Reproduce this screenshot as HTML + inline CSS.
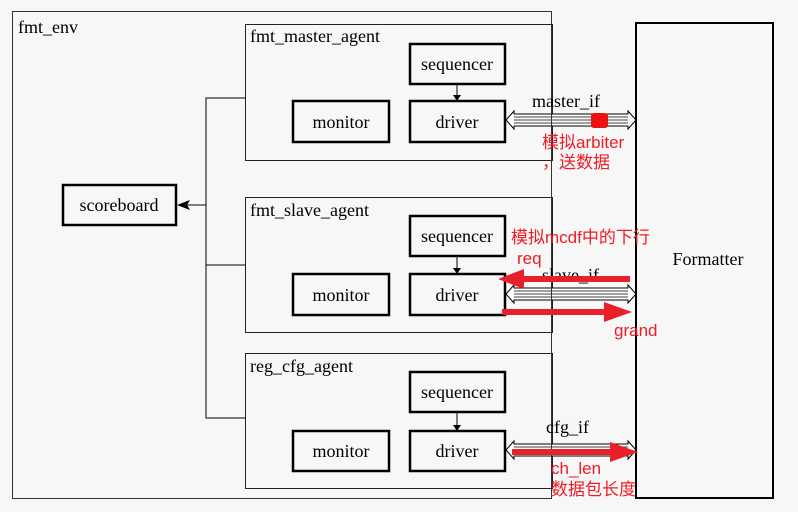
<!DOCTYPE html>
<html><head><style>html,body{margin:0;padding:0;background:#f7f7f7;}svg{display:block}</style></head>
<body>
<svg width="798" height="512" xmlns="http://www.w3.org/2000/svg" font-family="Liberation Serif, serif" font-size="18">
<rect width="798" height="512" fill="#f7f7f7"/>
<defs>
<g id="bus">
<polygon points="506,0 514,-9 514,-6 628,-6 628,-9 636,0 628,9 628,6 514,6 514,9" fill="#fff" stroke="#000" stroke-width="1"/>
<line x1="514" y1="-3" x2="628" y2="-3" stroke="#000" stroke-width="0.8"/>
<line x1="514" y1="0" x2="628" y2="0" stroke="#000" stroke-width="0.8"/>
<line x1="514" y1="3" x2="628" y2="3" stroke="#000" stroke-width="0.8"/>
</g>
</defs>
<rect x="12.5" y="11.5" width="539" height="487" fill="none" stroke="#333" stroke-width="1"/>
<text x="18" y="33">fmt_env</text>
<rect x="245.5" y="24.5" width="307" height="136" fill="none" stroke="#222"/>
<text x="250" y="42">fmt_master_agent</text>
<rect x="245.5" y="197.5" width="307" height="135" fill="none" stroke="#222"/>
<text x="250" y="216">fmt_slave_agent</text>
<rect x="245.5" y="353.5" width="307" height="135" fill="none" stroke="#222"/>
<text x="250" y="372">reg_cfg_agent</text>
<g fill="none" stroke="#000" stroke-width="2.5">
<rect x="410" y="44" width="95" height="40"/><rect x="410" y="101" width="95" height="41"/><rect x="293" y="101" width="96" height="41"/>
<rect x="410" y="216" width="95" height="40"/><rect x="410" y="274" width="95" height="41"/><rect x="293" y="274" width="96" height="41"/>
<rect x="410" y="372" width="95" height="40"/><rect x="410" y="431" width="95" height="40"/><rect x="293" y="431" width="96" height="40"/>
<rect x="63" y="185" width="113" height="40"/>
<rect x="636" y="23" width="137" height="475" stroke-width="2"/>
</g>
<g text-anchor="middle">
<text x="457" y="70">sequencer</text><text x="457" y="128">driver</text><text x="341" y="128">monitor</text>
<text x="457" y="242">sequencer</text><text x="457" y="301">driver</text><text x="341" y="301">monitor</text>
<text x="457" y="398">sequencer</text><text x="457" y="457">driver</text><text x="341" y="457">monitor</text>
<text x="119" y="211">scoreboard</text>
<text x="708" y="265">Formatter</text>
</g>
<g stroke="#000"><line x1="457" y1="84" x2="457" y2="96"/><line x1="457" y1="256" x2="457" y2="269"/><line x1="457" y1="412" x2="457" y2="426"/></g>
<g fill="#000"><polygon points="453,95 461,95 457,101"/><polygon points="453,268 461,268 457,274"/><polygon points="453,425 461,425 457,431"/></g>
<g stroke="#000" fill="none"><polyline points="245,98 206,98 206,418 245,418"/><line x1="206" y1="265" x2="245" y2="265"/><line x1="206" y1="205" x2="184" y2="205"/></g>
<polygon points="177,205 190,200 187,205 190,210" fill="#000"/>
<use href="#bus" y="120"/><use href="#bus" y="294"/><use href="#bus" y="450"/>
<line x1="551.5" y1="100" x2="551.5" y2="498" stroke="#333"/>
<text x="532" y="107">master_if</text>
<text x="542" y="281">slave_if</text>
<text x="546" y="433">cfg_if</text>
<rect x="591" y="113" width="17" height="15" rx="3" fill="#ee1111"/>
<g stroke="#e8202a" stroke-width="6" fill="#e8202a">
<line x1="630" y1="279" x2="520" y2="279"/><polygon points="498,279 524,269 524,289" stroke="none"/>
<line x1="502" y1="312" x2="608" y2="312"/><polygon points="632,312 604,302 604,322" stroke="none"/>
<line x1="512" y1="452" x2="612" y2="452"/><polygon points="638,452 610,442 610,462" stroke="none"/>
</g>
<g font-family="Liberation Sans, Noto Sans CJK SC, sans-serif" font-size="17" fill="#ee1c25">
<text x="542" y="148">模拟arbiter</text>
<text x="542" y="168">，送数据</text>
<text x="511" y="243">模拟mcdf中的下行</text>
<text x="517" y="264">req</text>
<text x="614" y="336">grand</text>
<text x="551" y="474">ch_len</text>
<text x="551" y="495">数据包长度</text>
</g>
</svg>
</body></html>
